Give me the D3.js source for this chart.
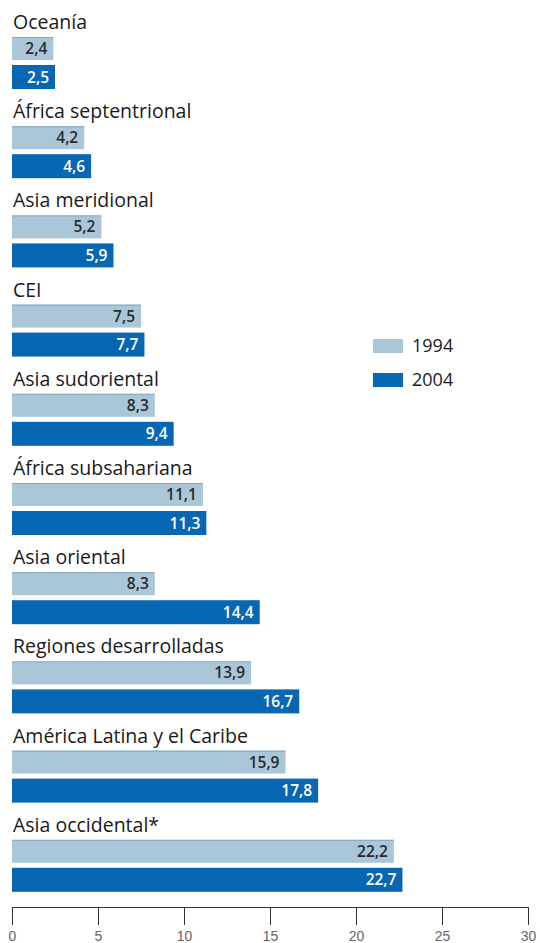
<!DOCTYPE html>
<html>
<head>
<meta charset="utf-8">
<script src="https://cdn.jsdelivr.net/npm/d3@7"></script>
<style>
  html, body { margin: 0; padding: 0; background: #fff; }
  svg { display: block; font-family: "Open Sans", sans-serif; }
  .region { font-size: 19.5px; fill: #1a1a1a; }
  .val { font-size: 15.5px; font-weight: 600; }
  .axis text { font-size: 14px; fill: #666; }
  .axis path, .axis line { stroke: #333; }
</style>
</head>
<body>
<div id="chart"></div>
<script>
// regions, top to bottom
var regions = ["Oceanía", "África septentrional", "Asia meridional", "CEI", "Asia sudoriental",
               "África subsahariana", "Asia oriental", "Regiones desarrolladas",
               "América Latina y el Caribe", "Asia occidental*"];
var values1994 = [2.4, 4.2, 5.2, 7.5, 8.3, 11.1, 8.3, 13.9, 15.9, 22.2];
var values2004 = [2.5, 4.6, 5.9, 7.7, 9.4, 11.3, 14.4, 16.7, 17.8, 22.7];
var seriesNames = ["1994", "2004"];
var xTicks = [0, 5, 10, 15, 20, 25, 30];

var width = 540, height = 943;
var colors = ["#a9c7d9", "#0867b3"];
var textColors = ["#2a2a2a", "#ffffff"];

var svg = d3.select("#chart").append("svg")
    .attr("width", width)
    .attr("height", height);

var x = d3.scaleLinear().domain([0, 30]).range([12, 528]);

// one band per region, bar tops placed from the band start
var y = d3.scaleBand().domain(regions).range([37, 37 + 89.2 * regions.length]);

var fmt = d3.formatLocale({decimal: ",", thousands: ".", grouping: [3], currency: ["", "€"]}).format(".1f");

var groups = svg.selectAll("g.group")
    .data(regions)
  .enter().append("g")
    .attr("class", "group")
    .attr("transform", function (d) { return "translate(0," + y(d) + ")"; });

groups.append("text")
    .attr("class", "region")
    .attr("x", 13)
    .attr("y", -8)
    .text(function (d) { return d; });

var series = [values1994, values2004];
var barOffset = [0, 28], barHeight = [23, 24];

series.forEach(function (vals, s) {
    groups.append("rect")
        .attr("x", x(0))
        .attr("y", barOffset[s])
        .attr("width", function (d, i) { return x(vals[i]) - x(0); })
        .attr("height", barHeight[s])
        .attr("fill", colors[s]);

    // thin darker top edge on the light bars
    if (s === 0) {
        groups.append("line")
            .attr("x1", x(0))
            .attr("x2", function (d, i) { return x(vals[i]); })
            .attr("y1", 0.5).attr("y2", 0.5)
            .attr("stroke", "#8aa6b8");
    }

    groups.append("text")
        .attr("class", "val")
        .attr("x", function (d, i) { return x(vals[i]) - 6; })
        .attr("y", barOffset[s] + barHeight[s] / 2)
        .attr("dy", "0.36em")
        .attr("text-anchor", "end")
        .attr("fill", textColors[s])
        .text(function (d, i) { return fmt(vals[i]); });
});

// legend
var legend = svg.selectAll("g.legend")
    .data(seriesNames)
  .enter().append("g")
    .attr("class", "legend")
    .attr("transform", function (d, i) { return "translate(373," + (339 + i * 34) + ")"; });

legend.append("rect")
    .attr("width", 30)
    .attr("height", 14)
    .attr("fill", function (d, i) { return colors[i]; });

legend.append("text")
    .attr("x", 39)
    .attr("y", 7)
    .attr("dy", "0.36em")
    .style("font-size", "18px")
    .style("fill", "#1a1a1a")
    .text(function (d) { return d; });

// axis
var axis = svg.append("g")
    .attr("class", "axis")
    .attr("transform", "translate(0,907)")
    .call(d3.axisBottom(x).tickValues(xTicks).tickSize(18).tickPadding(6).tickFormat(d3.format("d")));

axis.select(".domain").attr("d", "M" + x(0) + ",0.5H" + x(30));
</script>
</body>
</html>
